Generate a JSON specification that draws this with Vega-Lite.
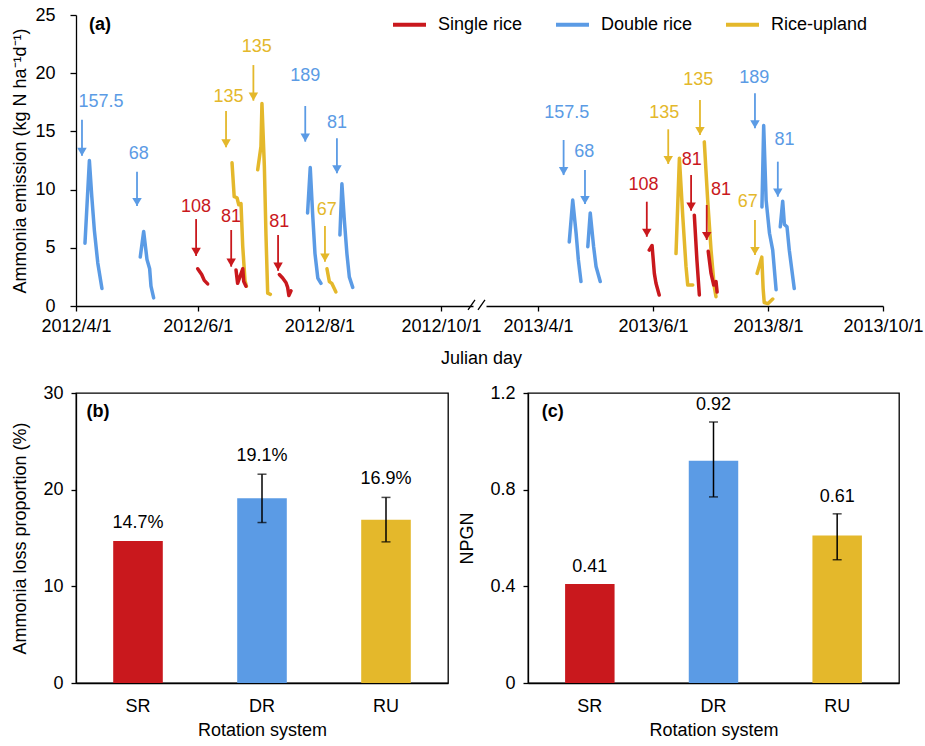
{
  "$schema": "https://vega.github.io/schema/vega-lite/v6.json",
  "background": "white",
  "padding": {"left": 11, "top": 6, "right": 5, "bottom": 5},
  "config": {
    "font": "Liberation Sans",
    "view": {"stroke": null},
    "axis": {"labelFont": "Liberation Sans", "titleFont": "Liberation Sans", "labelFontSize": 18, "titleFontSize": 18, "titleFontWeight": "normal", "labelColor": "#000", "titleColor": "#000", "domainColor": "#000", "tickColor": "#000", "grid": false, "domainWidth": 1.3, "tickWidth": 1.3},
    "text": {"font": "Liberation Sans"}
  },
  "datasets": {
    "lines": [
      {"p": "L", "s": "Double rice", "e": "L1", "t": "2012-04-05T12:00", "v": 5.4},
      {"p": "L", "s": "Double rice", "e": "L1", "t": "2012-04-07T17:00", "v": 12.5},
      {"p": "L", "s": "Double rice", "e": "L1", "t": "2012-04-08T22:00", "v": 9.4},
      {"p": "L", "s": "Double rice", "e": "L1", "t": "2012-04-10T05:00", "v": 6.5},
      {"p": "L", "s": "Double rice", "e": "L1", "t": "2012-04-11T22:00", "v": 3.7},
      {"p": "L", "s": "Double rice", "e": "L1", "t": "2012-04-14T00:00", "v": 1.5},
      {"p": "L", "s": "Double rice", "e": "L2", "t": "2012-05-03T05:00", "v": 4.2},
      {"p": "L", "s": "Double rice", "e": "L2", "t": "2012-05-04T22:00", "v": 6.4},
      {"p": "L", "s": "Double rice", "e": "L2", "t": "2012-05-06T14:00", "v": 4.0},
      {"p": "L", "s": "Double rice", "e": "L2", "t": "2012-05-07T22:00", "v": 3.2},
      {"p": "L", "s": "Double rice", "e": "L2", "t": "2012-05-08T14:00", "v": 1.7},
      {"p": "L", "s": "Double rice", "e": "L2", "t": "2012-05-09T22:00", "v": 0.7},
      {"p": "L", "s": "Single rice", "e": "L3", "t": "2012-06-01T00:00", "v": 3.2},
      {"p": "L", "s": "Single rice", "e": "L3", "t": "2012-06-03T00:00", "v": 2.7},
      {"p": "L", "s": "Single rice", "e": "L3", "t": "2012-06-04T07:00", "v": 2.2},
      {"p": "L", "s": "Single rice", "e": "L3", "t": "2012-06-06T00:00", "v": 1.9},
      {"p": "L", "s": "Rice-upland", "e": "L4", "t": "2012-06-18T05:00", "v": 12.3},
      {"p": "L", "s": "Rice-upland", "e": "L4", "t": "2012-06-19T07:00", "v": 9.4},
      {"p": "L", "s": "Rice-upland", "e": "L4", "t": "2012-06-20T17:00", "v": 9.3},
      {"p": "L", "s": "Rice-upland", "e": "L4", "t": "2012-06-21T14:00", "v": 8.7},
      {"p": "L", "s": "Rice-upland", "e": "L4", "t": "2012-06-22T17:00", "v": 8.8},
      {"p": "L", "s": "Rice-upland", "e": "L4", "t": "2012-06-23T14:00", "v": 5.1},
      {"p": "L", "s": "Rice-upland", "e": "L4", "t": "2012-06-24T17:00", "v": 2.2},
      {"p": "L", "s": "Rice-upland", "e": "L4", "t": "2012-06-25T10:00", "v": 1.7},
      {"p": "L", "s": "Single rice", "e": "L5", "t": "2012-06-20T05:00", "v": 3.1},
      {"p": "L", "s": "Single rice", "e": "L5", "t": "2012-06-21T00:00", "v": 1.95},
      {"p": "L", "s": "Single rice", "e": "L5", "t": "2012-06-23T14:00", "v": 3.2},
      {"p": "L", "s": "Single rice", "e": "L5", "t": "2012-06-24T02:00", "v": 2.1},
      {"p": "L", "s": "Single rice", "e": "L5", "t": "2012-06-25T05:00", "v": 1.7},
      {"p": "L", "s": "Rice-upland", "e": "L6", "t": "2012-07-01T02:00", "v": 11.7},
      {"p": "L", "s": "Rice-upland", "e": "L6", "t": "2012-07-02T17:00", "v": 13.7},
      {"p": "L", "s": "Rice-upland", "e": "L6", "t": "2012-07-03T05:00", "v": 17.4},
      {"p": "L", "s": "Rice-upland", "e": "L6", "t": "2012-07-04T10:00", "v": 12.0},
      {"p": "L", "s": "Rice-upland", "e": "L6", "t": "2012-07-05T05:00", "v": 6.2},
      {"p": "L", "s": "Rice-upland", "e": "L6", "t": "2012-07-06T02:00", "v": 1.1},
      {"p": "L", "s": "Rice-upland", "e": "L6", "t": "2012-07-07T10:00", "v": 1.0},
      {"p": "L", "s": "Single rice", "e": "L7", "t": "2012-07-11T22:00", "v": 2.7},
      {"p": "L", "s": "Single rice", "e": "L7", "t": "2012-07-13T14:00", "v": 2.4},
      {"p": "L", "s": "Single rice", "e": "L7", "t": "2012-07-15T07:00", "v": 2.0},
      {"p": "L", "s": "Single rice", "e": "L7", "t": "2012-07-16T02:00", "v": 1.6},
      {"p": "L", "s": "Single rice", "e": "L7", "t": "2012-07-16T17:00", "v": 0.9},
      {"p": "L", "s": "Single rice", "e": "L7", "t": "2012-07-17T19:00", "v": 1.3},
      {"p": "L", "s": "Double rice", "e": "L8", "t": "2012-07-26T02:00", "v": 8.0},
      {"p": "L", "s": "Double rice", "e": "L8", "t": "2012-07-27T10:00", "v": 11.9},
      {"p": "L", "s": "Double rice", "e": "L8", "t": "2012-07-28T14:00", "v": 8.0},
      {"p": "L", "s": "Double rice", "e": "L8", "t": "2012-07-29T19:00", "v": 4.5},
      {"p": "L", "s": "Double rice", "e": "L8", "t": "2012-07-31T05:00", "v": 2.4},
      {"p": "L", "s": "Double rice", "e": "L8", "t": "2012-08-01T19:00", "v": 1.95},
      {"p": "L", "s": "Rice-upland", "e": "L9", "t": "2012-08-04T19:00", "v": 3.2},
      {"p": "L", "s": "Rice-upland", "e": "L9", "t": "2012-08-06T00:00", "v": 2.1},
      {"p": "L", "s": "Rice-upland", "e": "L9", "t": "2012-08-07T05:00", "v": 1.95},
      {"p": "L", "s": "Rice-upland", "e": "L9", "t": "2012-08-09T07:00", "v": 1.2},
      {"p": "L", "s": "Double rice", "e": "L10", "t": "2012-08-11T07:00", "v": 6.1},
      {"p": "L", "s": "Double rice", "e": "L10", "t": "2012-08-12T07:00", "v": 10.5},
      {"p": "L", "s": "Double rice", "e": "L10", "t": "2012-08-13T12:00", "v": 7.4},
      {"p": "L", "s": "Double rice", "e": "L10", "t": "2012-08-14T19:00", "v": 4.5},
      {"p": "L", "s": "Double rice", "e": "L10", "t": "2012-08-16T00:00", "v": 2.5},
      {"p": "L", "s": "Double rice", "e": "L10", "t": "2012-08-17T17:00", "v": 1.6},
      {"p": "R", "s": "Double rice", "e": "R1", "t": "2013-04-17T14:00", "v": 5.5},
      {"p": "R", "s": "Double rice", "e": "R1", "t": "2013-04-19T10:00", "v": 9.1},
      {"p": "R", "s": "Double rice", "e": "R1", "t": "2013-04-21T05:00", "v": 6.25},
      {"p": "R", "s": "Double rice", "e": "R1", "t": "2013-04-22T10:00", "v": 3.95},
      {"p": "R", "s": "Double rice", "e": "R1", "t": "2013-04-23T19:00", "v": 2.1},
      {"p": "R", "s": "Double rice", "e": "R2", "t": "2013-04-27T10:00", "v": 5.1},
      {"p": "R", "s": "Double rice", "e": "R2", "t": "2013-04-28T17:00", "v": 8.0},
      {"p": "R", "s": "Double rice", "e": "R2", "t": "2013-04-30T12:00", "v": 5.1},
      {"p": "R", "s": "Double rice", "e": "R2", "t": "2013-05-01T19:00", "v": 3.4},
      {"p": "R", "s": "Double rice", "e": "R2", "t": "2013-05-04T00:00", "v": 2.1},
      {"p": "R", "s": "Single rice", "e": "R3", "t": "2013-05-30T00:00", "v": 4.8},
      {"p": "R", "s": "Single rice", "e": "R3", "t": "2013-05-31T12:00", "v": 5.2},
      {"p": "R", "s": "Single rice", "e": "R3", "t": "2013-06-01T17:00", "v": 2.8},
      {"p": "R", "s": "Single rice", "e": "R3", "t": "2013-06-02T14:00", "v": 1.95},
      {"p": "R", "s": "Single rice", "e": "R3", "t": "2013-06-04T07:00", "v": 0.95},
      {"p": "R", "s": "Rice-upland", "e": "R4", "t": "2013-06-13T05:00", "v": 4.5},
      {"p": "R", "s": "Rice-upland", "e": "R4", "t": "2013-06-15T00:00", "v": 12.7},
      {"p": "R", "s": "Rice-upland", "e": "R4", "t": "2013-06-16T19:00", "v": 7.7},
      {"p": "R", "s": "Rice-upland", "e": "R4", "t": "2013-06-18T12:00", "v": 3.4},
      {"p": "R", "s": "Rice-upland", "e": "R4", "t": "2013-06-19T10:00", "v": 1.8},
      {"p": "R", "s": "Rice-upland", "e": "R4", "t": "2013-06-22T02:00", "v": 1.8},
      {"p": "R", "s": "Single rice", "e": "R5", "t": "2013-06-22T22:00", "v": 7.8},
      {"p": "R", "s": "Single rice", "e": "R5", "t": "2013-06-24T07:00", "v": 3.95},
      {"p": "R", "s": "Single rice", "e": "R5", "t": "2013-06-25T14:00", "v": 0.95},
      {"p": "R", "s": "Rice-upland", "e": "R6", "t": "2013-06-28T05:00", "v": 14.1},
      {"p": "R", "s": "Rice-upland", "e": "R6", "t": "2013-06-30T00:00", "v": 9.1},
      {"p": "R", "s": "Rice-upland", "e": "R6", "t": "2013-07-01T19:00", "v": 4.8},
      {"p": "R", "s": "Rice-upland", "e": "R6", "t": "2013-07-03T12:00", "v": 1.65},
      {"p": "R", "s": "Rice-upland", "e": "R6", "t": "2013-07-04T10:00", "v": 0.8},
      {"p": "R", "s": "Single rice", "e": "R7", "t": "2013-06-30T07:00", "v": 4.7},
      {"p": "R", "s": "Single rice", "e": "R7", "t": "2013-07-01T19:00", "v": 2.8},
      {"p": "R", "s": "Single rice", "e": "R7", "t": "2013-07-03T05:00", "v": 1.8},
      {"p": "R", "s": "Single rice", "e": "R7", "t": "2013-07-04T10:00", "v": 2.1},
      {"p": "R", "s": "Single rice", "e": "R7", "t": "2013-07-05T00:00", "v": 1.2},
      {"p": "R", "s": "Rice-upland", "e": "R8", "t": "2013-07-26T05:00", "v": 2.8},
      {"p": "R", "s": "Rice-upland", "e": "R8", "t": "2013-07-28T17:00", "v": 4.2},
      {"p": "R", "s": "Rice-upland", "e": "R8", "t": "2013-07-29T10:00", "v": 1.5},
      {"p": "R", "s": "Rice-upland", "e": "R8", "t": "2013-07-30T00:00", "v": 0.3},
      {"p": "R", "s": "Rice-upland", "e": "R8", "t": "2013-07-31T22:00", "v": 0.2},
      {"p": "R", "s": "Rice-upland", "e": "R8", "t": "2013-08-03T12:00", "v": 0.6},
      {"p": "R", "s": "Double rice", "e": "R9", "t": "2013-07-28T19:00", "v": 8.5},
      {"p": "R", "s": "Double rice", "e": "R9", "t": "2013-07-29T17:00", "v": 15.5},
      {"p": "R", "s": "Double rice", "e": "R9", "t": "2013-07-31T00:00", "v": 9.1},
      {"p": "R", "s": "Double rice", "e": "R9", "t": "2013-08-01T19:00", "v": 6.25},
      {"p": "R", "s": "Double rice", "e": "R9", "t": "2013-08-03T12:00", "v": 4.8},
      {"p": "R", "s": "Double rice", "e": "R9", "t": "2013-08-05T07:00", "v": 1.4},
      {"p": "R", "s": "Double rice", "e": "R10", "t": "2013-08-07T12:00", "v": 6.8},
      {"p": "R", "s": "Double rice", "e": "R10", "t": "2013-08-08T19:00", "v": 9.0},
      {"p": "R", "s": "Double rice", "e": "R10", "t": "2013-08-09T17:00", "v": 7.0},
      {"p": "R", "s": "Double rice", "e": "R10", "t": "2013-08-11T02:00", "v": 6.8},
      {"p": "R", "s": "Double rice", "e": "R10", "t": "2013-08-12T07:00", "v": 4.8},
      {"p": "R", "s": "Double rice", "e": "R10", "t": "2013-08-14T22:00", "v": 1.5}
    ],
    "ann": [
      {"p": "L", "s": "Double rice", "lab": "157.5", "tx": "2012-04-13T12:00", "ty": 17.55, "ax": "2012-04-04T00:00", "a1": 16.0, "a2": 12.9},
      {"p": "L", "s": "Double rice", "lab": "68", "tx": "2012-05-02T10:00", "ty": 13.06, "ax": "2012-05-01T14:00", "a1": 11.54, "a2": 8.59},
      {"p": "L", "s": "Single rice", "lab": "108", "tx": "2012-05-31T05:00", "ty": 8.48, "ax": "2012-05-31T05:00", "a1": 7.47, "a2": 4.3},
      {"p": "L", "s": "Single rice", "lab": "81", "tx": "2012-06-17T17:00", "ty": 7.62, "ax": "2012-06-17T19:00", "a1": 6.53, "a2": 3.38},
      {"p": "L", "s": "Rice-upland", "lab": "135", "tx": "2012-06-16T12:00", "ty": 17.98, "ax": "2012-06-15T05:00", "a1": 16.75, "a2": 13.63},
      {"p": "L", "s": "Rice-upland", "lab": "135", "tx": "2012-06-30T14:00", "ty": 22.28, "ax": "2012-06-28T22:00", "a1": 20.7, "a2": 17.64},
      {"p": "L", "s": "Single rice", "lab": "81", "tx": "2012-07-11T22:00", "ty": 7.24, "ax": "2012-07-11T07:00", "a1": 6.1, "a2": 3.03},
      {"p": "L", "s": "Double rice", "lab": "189", "tx": "2012-07-24T22:00", "ty": 19.78, "ax": "2012-07-24T22:00", "a1": 17.18, "a2": 14.12},
      {"p": "L", "s": "Rice-upland", "lab": "67", "tx": "2012-08-04T17:00", "ty": 8.25, "ax": "2012-08-03T19:00", "a1": 6.87, "a2": 3.81},
      {"p": "L", "s": "Double rice", "lab": "81", "tx": "2012-08-09T19:00", "ty": 15.7, "ax": "2012-08-09T19:00", "a1": 14.41, "a2": 11.4},
      {"p": "R", "s": "Double rice", "lab": "157.5", "tx": "2013-04-16T05:00", "ty": 16.55, "ax": "2013-04-14T14:00", "a1": 14.26, "a2": 11.25},
      {"p": "R", "s": "Double rice", "lab": "68", "tx": "2013-04-25T14:00", "ty": 13.26, "ax": "2013-04-25T22:00", "a1": 11.68, "a2": 8.76},
      {"p": "R", "s": "Single rice", "lab": "108", "tx": "2013-05-26T22:00", "ty": 10.4, "ax": "2013-05-28T17:00", "a1": 8.96, "a2": 5.95},
      {"p": "R", "s": "Rice-upland", "lab": "135", "tx": "2013-06-07T00:00", "ty": 16.55, "ax": "2013-06-09T02:00", "a1": 15.18, "a2": 12.2},
      {"p": "R", "s": "Single rice", "lab": "81", "tx": "2013-06-21T12:00", "ty": 12.54, "ax": "2013-06-21T05:00", "a1": 11.25, "a2": 8.19},
      {"p": "R", "s": "Rice-upland", "lab": "135", "tx": "2013-06-25T00:00", "ty": 19.42, "ax": "2013-06-25T22:00", "a1": 17.7, "a2": 14.69},
      {"p": "R", "s": "Single rice", "lab": "81", "tx": "2013-07-07T02:00", "ty": 9.97, "ax": "2013-06-29T12:00", "a1": 8.68, "a2": 5.67},
      {"p": "R", "s": "Double rice", "lab": "189", "tx": "2013-07-24T17:00", "ty": 19.56, "ax": "2013-07-25T02:00", "a1": 18.27, "a2": 15.27},
      {"p": "R", "s": "Double rice", "lab": "81", "tx": "2013-08-09T17:00", "ty": 14.26, "ax": "2013-08-06T05:00", "a1": 12.4, "a2": 9.39},
      {"p": "R", "s": "Rice-upland", "lab": "67", "tx": "2013-07-21T05:00", "ty": 8.96, "ax": "2013-07-25T02:00", "a1": 7.39, "a2": 4.38}
    ],
    "brk": [
      {"x1": "2012-10-14T12:00", "x2": "2012-10-18T00:00", "y1": -0.34, "y2": 0.52},
      {"x1": "2012-10-19T12:00", "x2": "2012-10-23T00:00", "y1": -0.34, "y2": 0.52}
    ],
    "bars": [
      {"sys": "SR", "loss": 14.7, "lossLo": null, "lossHi": null, "lossTop": 14.7, "lossLab": "14.7%", "npgn": 0.41, "nLo": null, "nHi": null, "nTop": 0.41, "nLab": "0.41"},
      {"sys": "DR", "loss": 19.1, "lossLo": 16.6, "lossHi": 21.6, "lossTop": 21.6, "lossLab": "19.1%", "npgn": 0.92, "nLo": 0.77, "nHi": 1.08, "nTop": 1.08, "nLab": "0.92"},
      {"sys": "RU", "loss": 16.9, "lossLo": 14.6, "lossHi": 19.2, "lossTop": 19.2, "lossLab": "16.9%", "npgn": 0.61, "nLo": 0.51, "nHi": 0.70, "nTop": 0.70, "nLab": "0.61"}
    ]
  },
  "resolve": {"scale": {"x": "independent", "y": "independent", "color": "independent"}, "legend": {"color": "independent"}},
  "spacing": 16,
  "bounds": "full",
  "vconcat": [
    {
      "hconcat": [
        {
          "width": 397,
          "height": 291,
          "layer": [
            {
              "data": {"name": "lines"},
              "transform": [{"filter": "datum.p == 'L'"}],
              "mark": {"type": "line", "strokeWidth": 3.5, "strokeCap": "round", "strokeJoin": "round"},
              "encoding": {
                "x": {"field": "t", "type": "temporal", "scale": {"domain": [{"year": 2012, "month": 4, "date": 1}, {"year": 2012, "month": 10, "date": 17}]},
                  "axis": {"values": [{"year": 2012, "month": 4, "date": 1}, {"year": 2012, "month": 6, "date": 1}, {"year": 2012, "month": 8, "date": 1}, {"year": 2012, "month": 10, "date": 1}], "format": "%Y/%-m/%-d", "tickSize": 5, "labelPadding": 6, "labelFlush": false, "labelOverlap": false, "labelBound": false, "title": "Julian day", "titleX": 405, "titleY": 52, "titleAlign": "center", "titleBaseline": "middle"}},
                "y": {"field": "v", "type": "quantitative", "scale": {"domain": [0, 25], "nice": false},
                  "axis": {"values": [0, 5, 10, 15, 20, 25], "tickSize": 6, "labelPadding": 15, "title": "Ammonia emission (kg N ha⁻¹d⁻¹)", "titlePadding": 5}},
                "color": {"field": "s", "type": "nominal", "scale": {"domain": ["Single rice", "Double rice", "Rice-upland"], "range": ["#C9181D", "#5B9BE5", "#E4B82B"]}, "legend": null},
                "detail": {"field": "e"},
                "order": {"value": null}
              }
            },
            {
              "data": {"name": "ann"},
              "transform": [{"filter": "datum.p == 'L'"}],
              "mark": {"type": "rule", "strokeWidth": 1.8},
              "encoding": {
                "x": {"field": "ax", "type": "temporal"},
                "y": {"field": "a1", "type": "quantitative"},
                "y2": {"field": "a2"},
                "color": {"field": "s", "type": "nominal", "legend": null}
              }
            },
            {
              "data": {"name": "ann"},
              "transform": [{"filter": "datum.p == 'L'"}],
              "mark": {"type": "point", "shape": "triangle-down", "filled": true, "size": 90, "opacity": 1, "yOffset": -4},
              "encoding": {
                "x": {"field": "ax", "type": "temporal"},
                "y": {"field": "a2", "type": "quantitative"},
                "color": {"field": "s", "type": "nominal", "legend": null}
              }
            },
            {
              "data": {"name": "ann"},
              "transform": [{"filter": "datum.p == 'L'"}],
              "mark": {"type": "text", "fontSize": 18, "baseline": "middle", "align": "center"},
              "encoding": {
                "x": {"field": "tx", "type": "temporal"},
                "y": {"field": "ty", "type": "quantitative"},
                "text": {"field": "lab"},
                "color": {"field": "s", "type": "nominal", "legend": null}
              }
            },
            {
              "data": {"values": [{"lab": "(a)"}]},
              "mark": {"type": "text", "fontSize": 18, "fontWeight": "bold", "baseline": "middle", "align": "center", "color": "#000"},
              "encoding": {
                "x": {"datum": {"year": 2012, "month": 4, "date": 13}, "type": "temporal"},
                "y": {"datum": 24.1, "type": "quantitative"},
                "text": {"field": "lab"}
              }
            },
            {
              "data": {"name": "brk"},
              "mark": {"type": "rule", "strokeWidth": 1.3, "color": "#000"},
              "encoding": {
                "x": {"field": "x1", "type": "temporal"},
                "x2": {"field": "x2"},
                "y": {"field": "y1", "type": "quantitative"},
                "y2": {"field": "y2"}
              }
            }
          ]
        },
        {
          "width": 397,
          "height": 291,
          "layer": [
            {
              "data": {"name": "lines"},
              "transform": [{"filter": "datum.p == 'R'"}],
              "mark": {"type": "line", "strokeWidth": 3.5, "strokeCap": "round", "strokeJoin": "round"},
              "encoding": {
                "x": {"field": "t", "type": "temporal", "scale": {"domain": [{"year": 2013, "month": 3, "date": 4, "hours": 10}, {"year": 2013, "month": 10, "date": 1}]},
                  "axis": {"values": [{"year": 2013, "month": 4, "date": 1}, {"year": 2013, "month": 6, "date": 1}, {"year": 2013, "month": 8, "date": 1}, {"year": 2013, "month": 10, "date": 1}], "format": "%Y/%-m/%-d", "tickSize": 5, "labelPadding": 6, "labelFlush": false, "labelOverlap": false, "labelBound": false, "title": null}},
                "y": {"field": "v", "type": "quantitative", "scale": {"domain": [0, 25], "nice": false}, "axis": null},
                "color": {"field": "s", "type": "nominal", "scale": {"domain": ["Single rice", "Double rice", "Rice-upland"], "range": ["#C9181D", "#5B9BE5", "#E4B82B"]},
                  "legend": {"orient": "none", "legendX": -95, "legendY": -9, "direction": "horizontal", "title": null, "symbolType": "stroke", "symbolSize": 1089, "symbolStrokeWidth": 4, "labelFontSize": 18, "labelFont": "Liberation Sans", "labelColor": "#000", "columnPadding": 25, "labelOffset": 10, "padding": 0}},
                "detail": {"field": "e"},
                "order": {"value": null}
              }
            },
            {
              "data": {"name": "ann"},
              "transform": [{"filter": "datum.p == 'R'"}],
              "mark": {"type": "rule", "strokeWidth": 1.8},
              "encoding": {
                "x": {"field": "ax", "type": "temporal"},
                "y": {"field": "a1", "type": "quantitative"},
                "y2": {"field": "a2"},
                "color": {"field": "s", "type": "nominal", "legend": null}
              }
            },
            {
              "data": {"name": "ann"},
              "transform": [{"filter": "datum.p == 'R'"}],
              "mark": {"type": "point", "shape": "triangle-down", "filled": true, "size": 90, "opacity": 1, "yOffset": -4},
              "encoding": {
                "x": {"field": "ax", "type": "temporal"},
                "y": {"field": "a2", "type": "quantitative"},
                "color": {"field": "s", "type": "nominal", "legend": null}
              }
            },
            {
              "data": {"name": "ann"},
              "transform": [{"filter": "datum.p == 'R'"}],
              "mark": {"type": "text", "fontSize": 18, "baseline": "middle", "align": "center"},
              "encoding": {
                "x": {"field": "tx", "type": "temporal"},
                "y": {"field": "ty", "type": "quantitative"},
                "text": {"field": "lab"},
                "color": {"field": "s", "type": "nominal", "legend": null}
              }
            }
          ]
        }
      ],
      "spacing": 13,
      "bounds": "flush",
      "resolve": {"scale": {"x": "independent", "y": "independent", "color": "independent"}, "legend": {"color": "independent"}}
    },
    {
      "hconcat": [
        {
          "width": 372,
          "height": 290,
          "view": {"stroke": "#000", "strokeWidth": 1.3},
          "data": {"name": "bars"},
          "encoding": {
            "x": {"field": "sys", "type": "nominal", "sort": ["SR", "DR", "RU"], "scale": {"paddingInner": 0.6, "paddingOuter": 0.3},
              "axis": {"labelAngle": 0, "ticks": false, "labelPadding": 14, "title": "Rotation system", "titlePadding": 6}}
          },
          "layer": [
            {
              "mark": {"type": "bar"},
              "encoding": {
                "y": {"field": "loss", "type": "quantitative", "scale": {"domain": [0, 30], "nice": false},
                  "axis": {"values": [0, 10, 20, 30], "tickSize": 5, "labelPadding": 8, "title": "Ammonia loss proportion (%)", "titlePadding": 13}},
                "color": {"field": "sys", "type": "nominal", "scale": {"domain": ["SR", "DR", "RU"], "range": ["#C9181D", "#5B9BE5", "#E4B82B"]}, "legend": null}
              }
            },
            {
              "mark": {"type": "rule", "strokeWidth": 1.5, "color": "#000"},
              "encoding": {"y": {"field": "lossLo", "type": "quantitative"}, "y2": {"field": "lossHi"}}
            },
            {
              "mark": {"type": "tick", "color": "#000", "size": 9, "thickness": 1.5},
              "encoding": {"y": {"field": "lossLo", "type": "quantitative"}}
            },
            {
              "mark": {"type": "tick", "color": "#000", "size": 9, "thickness": 1.5},
              "encoding": {"y": {"field": "lossHi", "type": "quantitative"}}
            },
            {
              "mark": {"type": "text", "fontSize": 18, "dy": -18, "baseline": "middle", "color": "#000"},
              "encoding": {"y": {"field": "lossTop", "type": "quantitative"}, "text": {"field": "lossLab"}}
            },
            {
              "data": {"values": [{"lab": "(b)"}]},
              "mark": {"type": "text", "fontSize": 18, "fontWeight": "bold", "dx": -40, "baseline": "middle", "color": "#000"},
              "encoding": {"x": {"datum": "SR", "type": "nominal"}, "y": {"datum": 28, "type": "quantitative"}, "text": {"field": "lab"}}
            }
          ]
        },
        {
          "width": 371,
          "height": 290,
          "view": {"stroke": "#000", "strokeWidth": 1.3},
          "data": {"name": "bars"},
          "encoding": {
            "x": {"field": "sys", "type": "nominal", "sort": ["SR", "DR", "RU"], "scale": {"paddingInner": 0.6, "paddingOuter": 0.3},
              "axis": {"labelAngle": 0, "ticks": false, "labelPadding": 14, "title": "Rotation system", "titlePadding": 6}}
          },
          "layer": [
            {
              "mark": {"type": "bar"},
              "encoding": {
                "y": {"field": "npgn", "type": "quantitative", "scale": {"domain": [0, 1.2], "nice": false},
                  "axis": {"values": [0, 0.4, 0.8, 1.2], "format": "~g", "tickSize": 5, "labelPadding": 8, "title": "NPGN", "titlePadding": 13}},
                "color": {"field": "sys", "type": "nominal", "scale": {"domain": ["SR", "DR", "RU"], "range": ["#C9181D", "#5B9BE5", "#E4B82B"]}, "legend": null}
              }
            },
            {
              "mark": {"type": "rule", "strokeWidth": 1.5, "color": "#000"},
              "encoding": {"y": {"field": "nLo", "type": "quantitative"}, "y2": {"field": "nHi"}}
            },
            {
              "mark": {"type": "tick", "color": "#000", "size": 9, "thickness": 1.5},
              "encoding": {"y": {"field": "nLo", "type": "quantitative"}}
            },
            {
              "mark": {"type": "tick", "color": "#000", "size": 9, "thickness": 1.5},
              "encoding": {"y": {"field": "nHi", "type": "quantitative"}}
            },
            {
              "mark": {"type": "text", "fontSize": 18, "dy": -17, "baseline": "middle", "color": "#000"},
              "encoding": {"y": {"field": "nTop", "type": "quantitative"}, "text": {"field": "nLab"}}
            },
            {
              "data": {"values": [{"lab": "(c)"}]},
              "mark": {"type": "text", "fontSize": 18, "fontWeight": "bold", "dx": -37, "baseline": "middle", "color": "#000"},
              "encoding": {"x": {"datum": "SR", "type": "nominal"}, "y": {"datum": 1.12, "type": "quantitative"}, "text": {"field": "lab"}}
            }
          ]
        }
      ],
      "spacing": 80,
      "bounds": "flush",
      "resolve": {"scale": {"x": "independent", "y": "independent", "color": "independent"}, "legend": {"color": "independent"}}
    }
  ]
}
